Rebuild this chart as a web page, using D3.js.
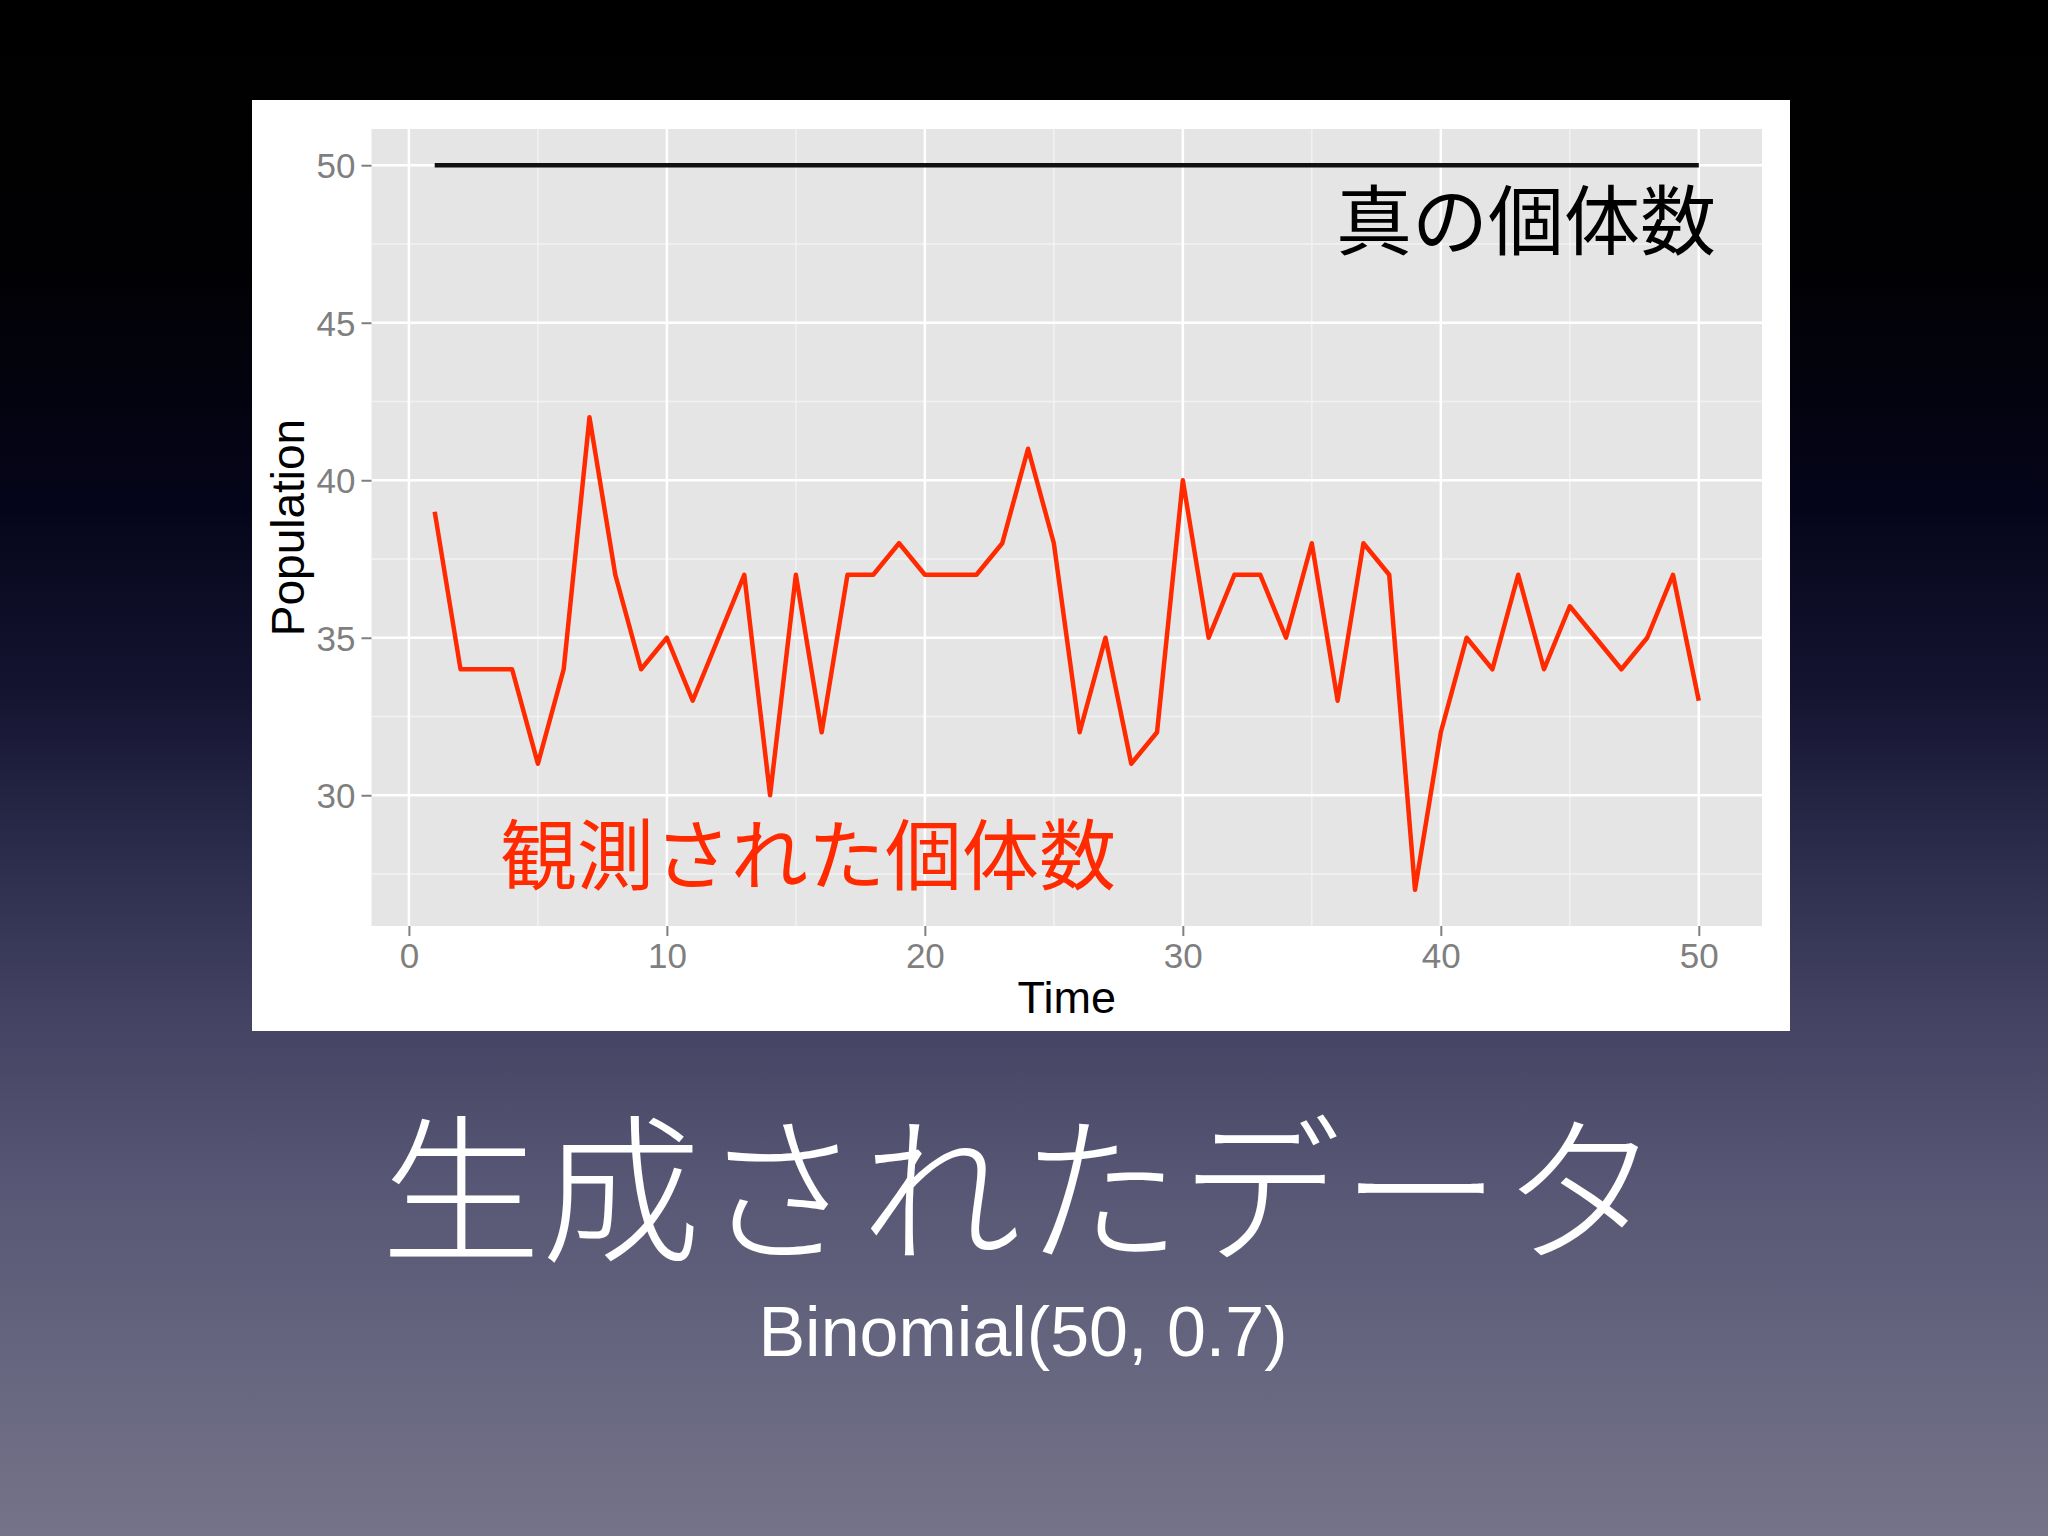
<!DOCTYPE html>
<html>
<head>
<meta charset="utf-8">
<script src="https://cdn.jsdelivr.net/npm/d3@7"></script>
<style>
  html, body { margin: 0; padding: 0; background: #000; }
  svg { display: block; }
</style>
</head>
<body>
<svg id="chart" width="2048" height="1536"></svg>
<script>
// ---- data ----
const times = d3.range(1, 51);
const observed = [39, 34, 34, 34, 31, 34, 42, 37, 34, 35,
                  33, 35, 37, 30, 37, 32, 37, 37, 38, 37,
                  37, 37, 38, 41, 38, 32, 35, 31, 32, 40,
                  35, 37, 37, 35, 38, 33, 38, 37, 27, 32,
                  35, 34, 37, 34, 36, 35, 34, 35, 37, 33];
const truePop = 50;
const xTicks = [0, 10, 20, 30, 40, 50];
const xMinor = [5, 15, 25, 35, 45];
const yTicks = [30, 35, 40, 45, 50];
const yMinor = [27.5, 32.5, 37.5, 42.5, 47.5];
const xLabel = "Time";
const yLabel = "Population";
const trueLabel = "真の個体数";
const obsLabel = "観測された個体数";
const slideTitle = "生成されたデータ";
const slideSub = "Binomial(50, 0.7)";

const svg = d3.select("#chart");

// background gradient
const defs = svg.append("defs");
const grad = defs.append("linearGradient").attr("id", "bg")
  .attr("x1", 0).attr("y1", 0).attr("x2", 0).attr("y2", 1);
[[0, "#000000"], [0.17, "#010103"], [0.33, "#05051a"], [0.45, "#141431"],
 [0.55, "#2a2a4a"], [0.66, "#434262"], [0.77, "#575674"], [0.88, "#66657f"], [1, "#747389"]]
  .forEach(([o, c]) => grad.append("stop").attr("offset", o).attr("stop-color", c));
svg.append("rect").attr("width", 2048).attr("height", 1536).attr("fill", "url(#bg)");

// white chart card
svg.append("rect").attr("x", 252).attr("y", 100).attr("width", 1538).attr("height", 931).attr("fill", "#ffffff");

// scales
const x = d3.scaleLinear().domain([-1.45, 52.45]).range([371.5, 1762]);
const y = d3.scaleLinear().domain([25.85, 51.15]).range([926, 129]);

// panel
svg.append("rect")
  .attr("x", x(-1.45)).attr("y", y(51.15))
  .attr("width", x(52.45) - x(-1.45)).attr("height", y(25.85) - y(51.15))
  .attr("fill", "#e5e5e5");

const grid = svg.append("g");
grid.selectAll(".vmin").data(xMinor).join("line")
  .attr("x1", d => x(d)).attr("x2", d => x(d)).attr("y1", y(51.15)).attr("y2", y(25.85))
  .attr("stroke", "#f2f2f2").attr("stroke-width", 1.5);
grid.selectAll(".hmin").data(yMinor).join("line")
  .attr("y1", d => y(d)).attr("y2", d => y(d)).attr("x1", x(-1.45)).attr("x2", x(52.45))
  .attr("stroke", "#f2f2f2").attr("stroke-width", 1.5);
grid.selectAll(".vmaj").data(xTicks).join("line")
  .attr("x1", d => x(d)).attr("x2", d => x(d)).attr("y1", y(51.15)).attr("y2", y(25.85))
  .attr("stroke", "#ffffff").attr("stroke-width", 2.5);
grid.selectAll(".hmaj").data(yTicks).join("line")
  .attr("y1", d => y(d)).attr("y2", d => y(d)).attr("x1", x(-1.45)).attr("x2", x(52.45))
  .attr("stroke", "#ffffff").attr("stroke-width", 2.5);

// axes
const axisFont = "'Liberation Sans', Arial, Helvetica, sans-serif";
const yAxis = svg.append("g").attr("transform", `translate(${x(-1.45)},0)`)
  .call(d3.axisLeft(y).tickValues(yTicks).tickSize(10).tickPadding(6).tickFormat(d3.format("d")));
const xAxis = svg.append("g").attr("transform", `translate(0,${y(25.85)})`)
  .call(d3.axisBottom(x).tickValues(xTicks).tickSize(10).tickPadding(6).tickFormat(d3.format("d")));
[yAxis, xAxis].forEach(a => {
  a.select(".domain").remove();
  a.selectAll(".tick line").attr("stroke", "#7f7f7f").attr("stroke-width", 2);
  a.selectAll(".tick text").attr("fill", "#7f7f7f")
    .style("font-family", axisFont).style("font-size", "35px");
});
yAxis.selectAll(".tick text").attr("dy", "0.36em");
xAxis.selectAll(".tick text").attr("dy", "0.74em");

// axis titles
svg.append("text").attr("x", (x(-1.45) + x(52.45)) / 2).attr("y", 1013)
  .attr("text-anchor", "middle").attr("fill", "#000")
  .style("font-family", axisFont).style("font-size", "45px").text(xLabel);
svg.append("text")
  .attr("transform", `translate(304,${(y(51.15) + y(25.85)) / 2}) rotate(-90)`)
  .attr("text-anchor", "middle").attr("fill", "#000")
  .style("font-family", axisFont).style("font-size", "46px").text(yLabel);

// lines
const line = d3.line().x(d => x(d[0])).y(d => y(d[1]));
svg.append("path")
  .datum([[times[0], truePop], [times[times.length - 1], truePop]])
  .attr("d", line).attr("fill", "none").attr("stroke", "#111").attr("stroke-width", 4.5);
svg.append("path")
  .datum(times.map((t, i) => [t, observed[i]]))
  .attr("d", line).attr("fill", "none").attr("stroke", "#ff2a00")
  .attr("stroke-width", 4.5).attr("stroke-linejoin", "round").attr("stroke-linecap", "butt");

// annotations
const cjk = "'Noto Sans CJK JP', 'Noto Sans CJK SC', sans-serif";
svg.append("text").attr("x", 1716).attr("y", 249).attr("text-anchor", "end")
  .attr("fill", "#000").style("font-family", cjk).style("font-size", "76px").text(trueLabel);
svg.append("text").attr("x", 500).attr("y", 884).attr("text-anchor", "start")
  .attr("fill", "#ff2a00").style("font-family", cjk).style("font-size", "77px").text(obsLabel);

// slide title
svg.append("text").attr("x", 1021).attr("y", 1250).attr("text-anchor", "middle")
  .attr("fill", "#ffffff").style("font-family", cjk).style("font-weight", 300)
  .style("font-size", "160px").text(slideTitle);
svg.append("text").attr("x", 1023).attr("y", 1356).attr("text-anchor", "middle")
  .attr("fill", "#ffffff").style("font-family", axisFont)
  .style("font-size", "70px").text(slideSub);
</script>
</body>
</html>
